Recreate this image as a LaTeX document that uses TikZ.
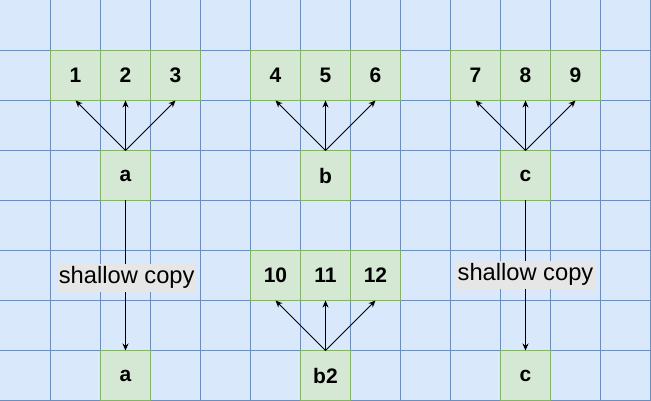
\documentclass[tikz,border=0pt]{standalone}
\usepackage{fontspec}
\setmainfont{Liberation Sans}
\usetikzlibrary{arrows.meta}
\definecolor{bgblue}{HTML}{DAE8FC}
\definecolor{gridblue}{HTML}{6C8EBF}
\definecolor{boxfill}{HTML}{D5E8D4}
\definecolor{boxline}{HTML}{82B366}
\definecolor{lblbg}{HTML}{E6E6E6}
\begin{document}
\begin{tikzpicture}[x=1pt,y=-1pt,
  cell/.style={draw=boxline,fill=boxfill,minimum width=50pt,minimum height=50pt,inner sep=0pt,outer sep=0pt,line width=1pt,font=\fontsize{21}{25}\selectfont\bfseries},
  arr/.style={-{Stealth[length=7pt,width=6pt]},line width=1pt,black},
  lbl/.style={fill=lblbg,inner xsep=1.3pt,inner ysep=3pt,font=\fontsize{23.7}{28}\selectfont},
  gridline/.style={gridblue,line width=1pt}]
\useasboundingbox (0,0) rectangle (651,401);
\fill[bgblue] (0,0) rectangle (651,401);
\foreach \i in {1,...,13} \draw[gridline] (\i*50+0.5,0) -- (\i*50+0.5,401);
\foreach \j in {1,...,8} \draw[gridline] (0,\j*50+0.5) -- (651,\j*50+0.5);
% top row
\node[cell] (n1) at (75.5,75.5) {1};
\node[cell] (n2) at (125.5,75.5) {2};
\node[cell] (n3) at (175.5,75.5) {3};
\node[cell] (n4) at (275.5,75.5) {4};
\node[cell] (n5) at (325.5,75.5) {5};
\node[cell] (n6) at (375.5,75.5) {6};
\node[cell] (n7) at (475.5,75.5) {7};
\node[cell] (n8) at (525.5,75.5) {8};
\node[cell] (n9) at (575.5,75.5) {9};
% second row
\node[cell] (a1) at (125.5,175.5) {a};
\node[cell] (b1) at (325.5,175.5) {b};
\node[cell] (c1) at (525.5,175.5) {c};
% middle row
\node[cell] (n10) at (275.5,275.5) {10};
\node[cell] (n11) at (325.5,275.5) {11};
\node[cell] (n12) at (375.5,275.5) {12};
% bottom row
\node[cell] (a2) at (125.5,375.5) {a};
\node[cell] (b2) at (325.5,375.5) {b2};
\node[cell] (c2) at (525.5,375.5) {c};
% arrows
\foreach \t in {n1,n2,n3} \draw[arr] (a1.north) -- (\t.south);
\foreach \t in {n4,n5,n6} \draw[arr] (b1.north) -- (\t.south);
\foreach \t in {n7,n8,n9} \draw[arr] (c1.north) -- (\t.south);
\foreach \t in {n10,n11,n12} \draw[arr] (b2.north) -- (\t.south);
\draw[arr] (a1.south) -- node[lbl,pos=0.515,xshift=1.2pt] (l1) {shallow copy} (a2.north);
\draw[arr] (c1.south) -- node[lbl,pos=0.495] (l2) {shallow copy} (c2.north);
\end{tikzpicture}
\end{document}
